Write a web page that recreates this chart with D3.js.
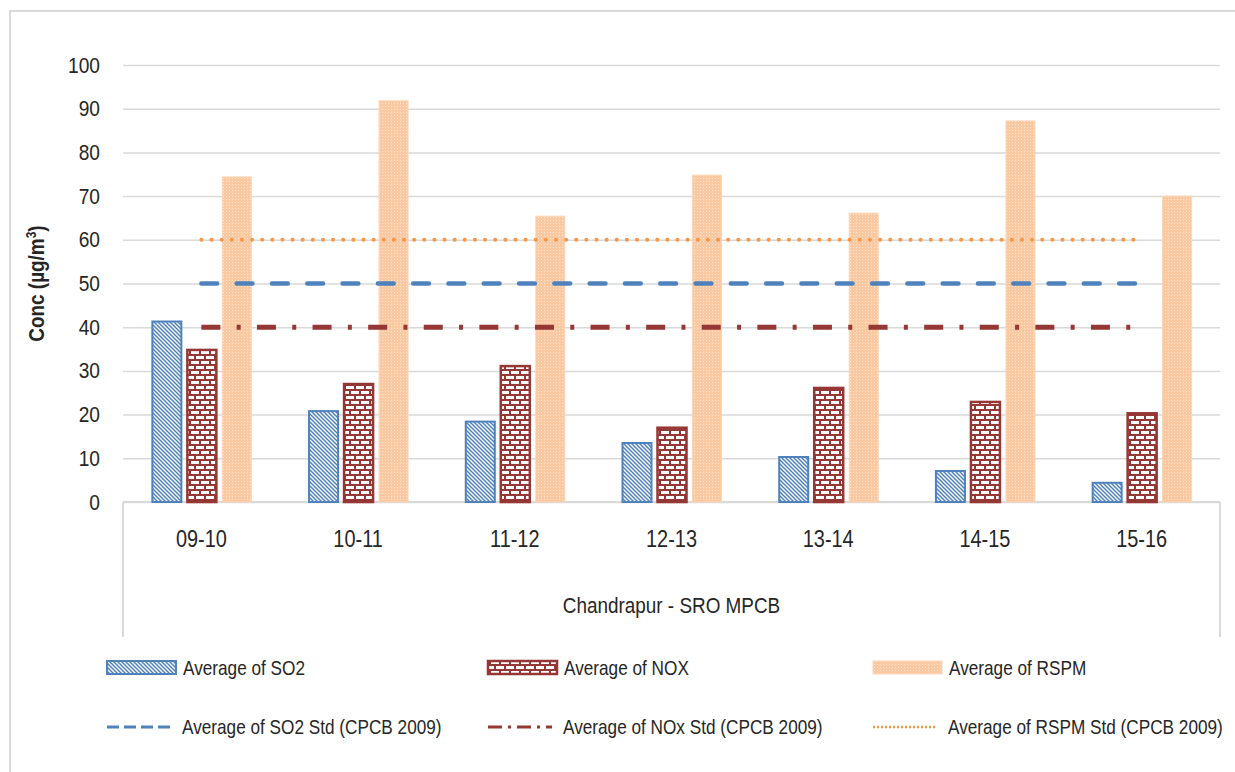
<!DOCTYPE html>
<html>
<head>
<meta charset="utf-8">
<script src="https://cdn.jsdelivr.net/npm/d3@7"></script>
<style>
  html, body { margin: 0; padding: 0; background: #ffffff; }
  svg { display: block; }
  text { font-family: "Liberation Sans", Arial, sans-serif; fill: #262626; }
</style>
</head>
<body>
<svg id="chart" width="1235" height="772"></svg>
<script>
// ---------------- data ----------------
const categories = ["09-10", "10-11", "11-12", "12-13", "13-14", "14-15", "15-16"];
const so2  = [41.3, 20.8, 18.4, 13.5, 10.3, 7.1, 4.4];
const nox  = [34.8, 27.0, 31.1, 17.0, 26.1, 22.9, 20.3];
const rspm = [74.4, 91.8, 65.4, 74.8, 66.1, 87.2, 70.0];
const so2Std  = [50, 50, 50, 50, 50, 50, 50];
const noxStd  = [40, 40, 40, 40, 40, 40, 40];
const rspmStd = [60, 60, 60, 60, 60, 60, 60];
const yTicks = [0, 10, 20, 30, 40, 50, 60, 70, 80, 90, 100];
const barNames  = ["Average of SO2", "Average of NOX", "Average of RSPM"];
const lineNames = ["Average of SO2 Std (CPCB 2009)", "Average of NOx Std (CPCB 2009)", "Average of RSPM Std (CPCB 2009)"];
const xTitle = "Chandrapur - SRO MPCB";
const yTitle = "Conc (µg/m";

// ---------------- layout ----------------
const svg = d3.select("#chart");
const plot = { left: 123, right: 1220, top: 65, bottom: 502, catBottom: 637 };
const SQ = 0.86;
const grid = "#d9d9d9";
const blue = "#4f81bd", red = "#953735", orange = "#f79646";

svg.append("rect").attr("width", 1235).attr("height", 772).attr("fill", "#fff");
svg.append("rect").attr("x", 10).attr("y", 11).attr("width", 1240).attr("height", 790)
  .attr("fill", "none").attr("stroke", grid).attr("stroke-width", 2);

// patterns
const defs = svg.append("defs");
const pDiag = defs.append("pattern").attr("id", "pDiag").attr("patternUnits", "userSpaceOnUse")
  .attr("width", 4).attr("height", 4);
pDiag.append("rect").attr("width", 4).attr("height", 4).attr("fill", "#fff");
pDiag.append("path").attr("d", "M-1,-1 L5,5 M-1,3 L1,5 M3,-1 L5,1")
  .attr("stroke", blue).attr("stroke-width", 1.5);

const pBrick = defs.append("pattern").attr("id", "pBrick").attr("patternUnits", "userSpaceOnUse")
  .attr("width", 10).attr("height", 10);
pBrick.append("rect").attr("width", 10).attr("height", 10).attr("fill", red);
pBrick.append("rect").attr("x", 1).attr("y", 1).attr("width", 8).attr("height", 3).attr("fill", "#fff");
pBrick.append("rect").attr("x", -4).attr("y", 6).attr("width", 8).attr("height", 3).attr("fill", "#fff");
pBrick.append("rect").attr("x", 6).attr("y", 6).attr("width", 8).attr("height", 3).attr("fill", "#fff");

const pDot = defs.append("pattern").attr("id", "pDot").attr("patternUnits", "userSpaceOnUse")
  .attr("width", 3).attr("height", 3);
pDot.append("rect").attr("width", 3).attr("height", 3).attr("fill", "#fac8a1");
pDot.append("rect").attr("x", 1).attr("y", 1).attr("width", 1).attr("height", 1).attr("fill", "#fee6d3");

// scales
const x = d3.scaleBand().domain(categories).range([plot.left, plot.right]).padding(0);
const x1 = d3.scaleBand().domain(barNames).range([-49, 50]).paddingInner(6 / 35).paddingOuter(0);
const y = d3.scaleLinear().domain([0, 100]).range([plot.bottom, plot.top]);
const cx = c => x(c) + x.bandwidth() / 2;

// y axis + gridlines
const yAxis = svg.append("g").attr("transform", `translate(${plot.left},0)`)
  .call(d3.axisLeft(y).tickValues(yTicks).tickSize(-(plot.right - plot.left)).tickPadding(23));
yAxis.select(".domain").remove();
yAxis.selectAll(".tick line").attr("stroke", grid).attr("stroke-width", 1.5);
yAxis.selectAll(".tick text").attr("font-size", 22).attr("fill", "#262626")
  .attr("font-family", "Liberation Sans, Arial, sans-serif");

// category axis frame
svg.append("line").attr("x1", plot.left).attr("x2", plot.right).attr("y1", plot.bottom).attr("y2", plot.bottom)
  .attr("stroke", grid).attr("stroke-width", 2);
[plot.left, plot.right].forEach(xx => {
  svg.append("line").attr("x1", xx).attr("x2", xx).attr("y1", plot.bottom).attr("y2", plot.catBottom)
    .attr("stroke", grid).attr("stroke-width", 2);
});
const xAxis = svg.append("g").attr("transform", `translate(0,${plot.bottom})`)
  .call(d3.axisBottom(x).tickSize(0).tickPadding(28));
xAxis.select(".domain").remove();
xAxis.selectAll(".tick text").attr("font-size", 24).attr("fill", "#262626")
  .attr("font-family", "Liberation Sans, Arial, sans-serif");

// bars
const barSeries = [
  { name: barNames[0], values: so2, fill: "url(#pDiag)", stroke: blue, sw: 2 },
  { name: barNames[1], values: nox, fill: "url(#pBrick)", stroke: red, sw: 2.5 },
  { name: barNames[2], values: rspm, fill: "url(#pDot)", stroke: "#fcd5b5", sw: 1 }
];
barSeries.forEach(s => {
  svg.append("g").selectAll("rect").data(categories).join("rect")
    .attr("x", c => cx(c) + x1(s.name))
    .attr("width", x1.bandwidth())
    .attr("y", (c, i) => y(s.values[i]))
    .attr("height", (c, i) => y(0) - y(s.values[i]))
    .attr("fill", s.fill).attr("stroke", s.stroke).attr("stroke-width", s.sw);
});

// std lines
const lineSeries = [
  { values: rspmStd, color: orange, width: 4, dash: "0.1 10.03", cap: "round" },
  { values: so2Std, color: blue, width: 4.5, dash: "15.8 19.5", cap: "round" },
  { values: noxStd, color: red, width: 5, dash: "19 16.3 4 16.3", cap: "butt" }
];
const lineGen = vals => d3.line().x(c => cx(c)).y((c, i) => y(vals[i]))(categories);
lineSeries.forEach(s => {
  svg.append("path").attr("d", lineGen(s.values)).attr("fill", "none")
    .attr("stroke", s.color).attr("stroke-width", s.width)
    .attr("stroke-dasharray", s.dash).attr("stroke-linecap", s.cap);
});

// axis titles
svg.append("text").attr("class", "sq").attr("x", (plot.left + plot.right) / 2).attr("y", 613)
  .attr("text-anchor", "middle").attr("font-size", 22).text(xTitle);
const yt = svg.append("text").attr("class", "sq")
  .attr("transform", `translate(44,${(plot.top + plot.bottom) / 2}) rotate(-90)`)
  .attr("text-anchor", "middle").attr("font-size", 22).attr("font-weight", "bold");
yt.append("tspan").text(yTitle);
yt.append("tspan").attr("baseline-shift", "super").attr("font-size", 14).text("3");
yt.append("tspan").text(")");

// legend
const legBars = [
  { x: 107, fill: "url(#pDiag)", stroke: blue, sw: 2 },
  { x: 488, fill: "url(#pBrick)", stroke: red, sw: 2.5 },
  { x: 873, fill: "url(#pDot)", stroke: "#fcd5b5", sw: 1 }
];
legBars.forEach((l, i) => {
  svg.append("rect").attr("x", l.x).attr("y", 661).attr("width", 69).attr("height", 13)
    .attr("fill", l.fill).attr("stroke", l.stroke).attr("stroke-width", l.sw);
  svg.append("text").attr("class", "sq").attr("x", l.x + 76).attr("y", 675)
    .attr("font-size", 20).text(barNames[i]);
});
const legLines = [
  { x: 107, color: blue, width: 3, dash: "12 5", cap: "butt" },
  { x: 488, color: red, width: 3, dash: "14 6 3 6", cap: "butt" },
  { x: 873, color: orange, width: 2.5, dash: "2 2", cap: "butt" }
];
legLines.forEach((l, i) => {
  svg.append("line").attr("x1", l.x).attr("x2", l.x + 64).attr("y1", 727).attr("y2", 727)
    .attr("stroke", l.color).attr("stroke-width", l.width).attr("stroke-dasharray", l.dash);
  svg.append("text").attr("class", "sq").attr("x", l.x + 75).attr("y", 734)
    .attr("font-size", 20).text(lineNames[i]);
});

// horizontally condense text (around its anchor) to match the narrow look of the original
function squish(sel, f) {
  sel.each(function () {
    const x0 = +this.getAttribute("x") || 0;
    const t = this.getAttribute("transform") || "";
    this.setAttribute("transform", `${t} translate(${x0},0) scale(${f},1) translate(${-x0},0)`.trim());
  });
}
squish(svg.selectAll("text.sq"), SQ);
squish(yAxis.selectAll(".tick text"), 0.87);
squish(xAxis.selectAll(".tick text"), 0.83);
</script>
</body>
</html>
